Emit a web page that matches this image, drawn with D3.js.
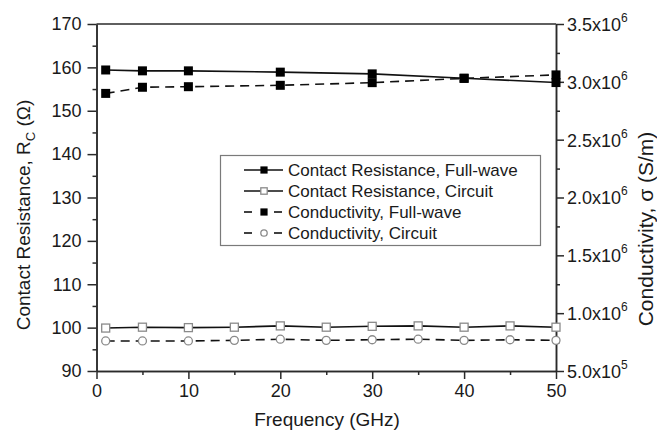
<!DOCTYPE html>
<html>
<head>
<meta charset="utf-8">
<script src="https://cdn.jsdelivr.net/npm/d3@7/dist/d3.min.js"></script>
<style>
  html, body { margin: 0; padding: 0; background: #fff; }
  svg { display: block; }
  text { font-family: "Liberation Sans", Arial, sans-serif; fill: #1a1a1a; }
</style>
</head>
<body>
<svg id="chart" width="657" height="430"></svg>
<script>
// ---- data ----
const freqFullWave = [1, 5, 10, 20, 30, 40, 50];
const rcFullWave = [159.4, 159.2, 159.2, 158.9, 158.5, 157.5, 156.5];
const sigmaFullWave = [2.90e6, 2.953e6, 2.958e6, 2.97e6, 2.993e6, 3.03e6, 3.06e6];

const freqCircuit = [1, 5, 10, 15, 20, 25, 30, 35, 40, 45, 50];
const rcCircuit = [99.9, 100.1, 100.0, 100.1, 100.4, 100.1, 100.3, 100.4, 100.1, 100.4, 100.1];
const sigmaCircuit = [7.6e5, 7.6e5, 7.6e5, 7.65e5, 7.75e5, 7.65e5, 7.7e5, 7.75e5, 7.65e5, 7.7e5, 7.65e5];

const xTicks = [0, 10, 20, 30, 40, 50];
const xMinorTicks = [5, 15, 25, 35, 45];
const yLeftTicks = [90, 100, 110, 120, 130, 140, 150, 160, 170];
const yLeftMinor = [95, 105, 115, 125, 135, 145, 155, 165];
const yRightTicks = [5e5, 1.0e6, 1.5e6, 2.0e6, 2.5e6, 3.0e6, 3.5e6];
const yRightMinor = [7.5e5, 1.25e6, 1.75e6, 2.25e6, 2.75e6, 3.25e6];
const yRightMantissa = ["5.0", "1.0", "1.5", "2.0", "2.5", "3.0", "3.5"];
const yRightExponent = ["5", "6", "6", "6", "6", "6", "6"];

const legendLabels = [
  "Contact Resistance, Full-wave",
  "Contact Resistance, Circuit",
  "Conductivity, Full-wave",
  "Conductivity, Circuit"
];

// ---- layout ----
const L = 96.5, R = 556, T = 24, B = 371;
const svg = d3.select("#chart");
const x = d3.scaleLinear().domain([0, 50]).range([L, R]);
const yL = d3.scaleLinear().domain([90, 170]).range([B, T]);
const yR = d3.scaleLinear().domain([5e5, 3.5e6]).range([B, T]);

const axisColor = "#2a2a2a";
const fontTick = 18;

function styleAxis(g) {
  g.selectAll("path.domain").attr("stroke", axisColor).attr("stroke-width", 1.5);
  g.selectAll(".tick line").attr("stroke", axisColor).attr("stroke-width", 1.5);
  g.selectAll(".tick text").attr("font-size", fontTick).attr("fill", "#1a1a1a")
    .attr("font-family", '"Liberation Sans", Arial, sans-serif');
}

// top frame line
svg.append("line").attr("x1", L).attr("x2", R).attr("y1", T).attr("y2", T)
  .attr("stroke", axisColor).attr("stroke-width", 1.5);

// x axis
svg.append("g").attr("transform", `translate(0,${B})`)
  .call(d3.axisBottom(x).tickValues(xMinorTicks).tickSize(4).tickFormat("").tickSizeOuter(0))
  .call(styleAxis);
const gx = svg.append("g").attr("transform", `translate(0,${B})`)
  .call(d3.axisBottom(x).tickValues(xTicks).tickSize(8).tickPadding(5).tickFormat(d3.format("d")).tickSizeOuter(0))
  .call(styleAxis);

// left axis
svg.append("g").attr("transform", `translate(${L},0)`)
  .call(d3.axisLeft(yL).tickValues(yLeftMinor).tickSize(4).tickFormat("").tickSizeOuter(0))
  .call(styleAxis);
svg.append("g").attr("transform", `translate(${L},0)`)
  .call(d3.axisLeft(yL).tickValues(yLeftTicks).tickSize(9).tickPadding(6).tickFormat(d3.format("d")).tickSizeOuter(0))
  .call(styleAxis);

// right axis
svg.append("g").attr("transform", `translate(${R},0)`)
  .call(d3.axisRight(yR).tickValues(yRightMinor).tickSize(4).tickFormat("").tickSizeOuter(0))
  .call(styleAxis);
const gr = svg.append("g").attr("transform", `translate(${R},0)`)
  .call(d3.axisRight(yR).tickValues(yRightTicks).tickSize(8).tickFormat("").tickSizeOuter(0))
  .call(styleAxis);
gr.selectAll(".tick").each(function(d, i) {
  const t = d3.select(this).append("text")
    .attr("x", 11).attr("dy", "0.36em")
    .attr("font-size", fontTick).attr("text-anchor", "start").attr("fill", "#1a1a1a");
  t.append("tspan").text(yRightMantissa[i] + "x10");
  t.append("tspan").text(yRightExponent[i]).attr("font-size", 12).attr("dy", "-0.75em");
});

// axis titles
svg.append("text")
  .attr("transform", `translate(30,215) rotate(-90)`)
  .attr("text-anchor", "middle").attr("font-size", 19)
  .call(t => {
    t.append("tspan").text("Contact Resistance, R");
    t.append("tspan").text("C").attr("font-size", 13).attr("dy", "0.35em");
    t.append("tspan").text(" (Ω)").attr("dy", "-0.25em");
  });

svg.append("text")
  .attr("transform", `translate(653,229) rotate(-90)`)
  .attr("text-anchor", "middle").attr("font-size", 21)
  .text("Conductivity, σ (S/m)");

svg.append("text")
  .attr("x", 327).attr("y", 426)
  .attr("text-anchor", "middle").attr("font-size", 19)
  .text("Frequency (GHz)");

// ---- series ----
const series = [
  { fx: freqFullWave, vals: rcFullWave, y: yL, dash: null, marker: "fsq" },
  { fx: freqCircuit, vals: rcCircuit, y: yL, dash: null, marker: "osq" },
  { fx: freqFullWave, vals: sigmaFullWave, y: yR, dash: "9,6", marker: "fsq" },
  { fx: freqCircuit, vals: sigmaCircuit, y: yR, dash: "9,6", marker: "oci" }
];

function drawMarker(g, type, cx, cy, scale) {
  const s = scale || 1;
  if (type === "fsq") {
    g.append("rect").attr("x", cx - 4.5 * s).attr("y", cy - 4.5 * s)
      .attr("width", 9 * s).attr("height", 9 * s).attr("fill", "#000");
  } else if (type === "osq") {
    g.append("rect").attr("x", cx - 4 * s).attr("y", cy - 4 * s)
      .attr("width", 8 * s).attr("height", 8 * s)
      .attr("fill", "#fff").attr("stroke", "#8a8a8a").attr("stroke-width", 1.3);
  } else {
    g.append("circle").attr("cx", cx).attr("cy", cy).attr("r", 4 * s)
      .attr("fill", "#fff").attr("stroke", "#8a8a8a").attr("stroke-width", 1.3);
  }
}

series.forEach(s => {
  const pts = s.fx.map((f, i) => [f, s.vals[i]]);
  const line = d3.line().x(d => x(d[0])).y(d => s.y(d[1]));
  svg.append("path").datum(pts).attr("d", line)
    .attr("fill", "none").attr("stroke", "#111").attr("stroke-width", 1.6)
    .attr("stroke-dasharray", s.dash);
  const g = svg.append("g");
  pts.forEach(d => drawMarker(g, s.marker, x(d[0]), s.y(d[1])));
});

// ---- legend ----
const lg = svg.append("g");
lg.append("rect").attr("x", 220.5).attr("y", 155.5).attr("width", 320).attr("height", 90)
  .attr("fill", "#fff").attr("stroke", "#7a7a7a").attr("stroke-width", 1.2);
const rowY = [170, 191, 212, 233];
legendLabels.forEach((lab, i) => {
  const y0 = rowY[i];
  const s = series[i];
  if (s.dash) {
    lg.append("line").attr("x1", 244).attr("x2", 252).attr("y1", y0).attr("y2", y0)
      .attr("stroke", "#111").attr("stroke-width", 1.6);
    lg.append("line").attr("x1", 274).attr("x2", 282).attr("y1", y0).attr("y2", y0)
      .attr("stroke", "#111").attr("stroke-width", 1.6);
  } else {
    lg.append("line").attr("x1", 244).attr("x2", 283).attr("y1", y0).attr("y2", y0)
      .attr("stroke", "#111").attr("stroke-width", 1.6);
  }
  drawMarker(lg, s.marker, 264, y0, 0.8);
  lg.append("text").attr("x", 288).attr("y", y0).attr("dy", "0.36em")
    .attr("font-size", 17).text(lab);
});
</script>
</body>
</html>
